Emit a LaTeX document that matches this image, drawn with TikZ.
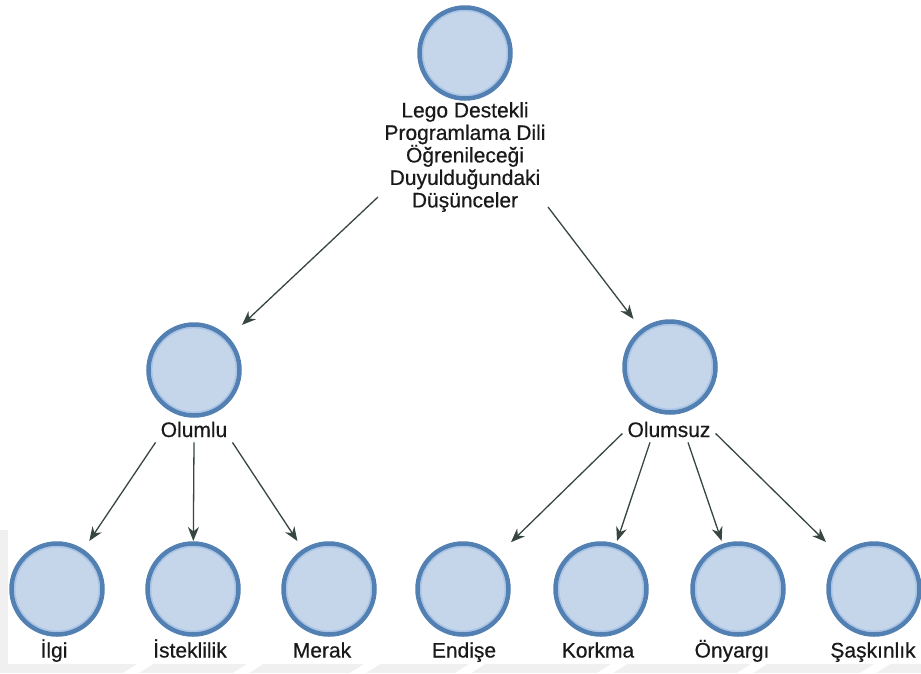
\documentclass[tikz,border=0pt]{standalone}
\usepackage{fontspec}
\setmainfont[FakeBold=0.5]{Liberation Sans}
\usetikzlibrary{arrows.meta}

\definecolor{ringblue}{HTML}{5380B3}
\definecolor{ringlight}{HTML}{A8C4E7}
\definecolor{bubblefill}{HTML}{C6D6EA}
\definecolor{linkgrey}{HTML}{37463F}
\definecolor{marktint}{HTML}{F0F0F0}

\begin{document}
\begin{tikzpicture}[x=1pt,y=-1pt,
  bubble/.style={rectangle, draw=none, inner sep=0pt, outer sep=0pt,
    minimum width=96pt, minimum height=96pt,
    path picture={
      \fill[bubblefill] (path picture bounding box.center) circle[radius=45.5pt];
      \draw[ringlight, line width=1.4pt] (path picture bounding box.center) circle[radius=42.3pt];
      \draw[ringblue, line width=4.5pt] (path picture bounding box.center) circle[radius=45.5pt];
    }},
  caption/.style={font=\fontsize{21}{22.5}\selectfont, text=black!90, inner sep=5pt, align=center},
  link/.style={draw=linkgrey, line width=1.3pt,
    -{Stealth[length=14pt,width=11pt,inset=4.5pt]}},
]
% page and faint backdrop along the lower and left edges
\useasboundingbox (0,0) rectangle (921,673);
\fill[white] (0,0) rectangle (921,673);
\fill[marktint] (0,664) rectangle (921,673);
\fill[marktint] (0,530) rectangle (8,664);
\foreach \gx in {123,233,350,455,597,737,860}
  \fill[white] (\gx,673) -- (\gx+14,664) -- (\gx+30,664) -- (\gx+16,673) -- cycle;

% root
\node[bubble] (root) at (465,53) {};
\node[caption, anchor=north] (rootlbl) at (465,97)
  {Lego Destekli\\Programlama Dili\\Öğrenileceği\\Duyulduğundaki\\Düşünceler};

% second level
\node[bubble] (pos) at (194,370) {};
\node[caption, anchor=base] (poslbl) at (194,437) {Olumlu};
\node[bubble] (neg) at (670,367) {};
\node[caption, anchor=base] (neglbl) at (669,437) {Olumsuz};

% leaves
\node[bubble] (ilgi) at (57,589) {};
\node[bubble] (istek) at (193,589) {};
\node[bubble] (merak) at (329,589) {};
\node[bubble] (endise) at (463,589) {};
\node[bubble] (korkma) at (601,589) {};
\node[bubble] (onyargi) at (738,589) {};
\node[bubble] (saskin) at (874,589) {};

\node[caption, anchor=base] (ilgilbl) at (54,657.5) {İlgi};
\node[caption, anchor=base] (isteklbl) at (190,657.5) {İsteklilik};
\node[caption, anchor=base] (meraklbl) at (322,657.5) {Merak};
\node[caption, anchor=base] (endiselbl) at (464,657.5) {Endişe};
\node[caption, anchor=base] (korkmalbl) at (598,657.5) {Korkma};
\node[caption, anchor=base] (onyargilbl) at (732,657.5) {Önyargı};
\node[caption, anchor=base] (saskinlbl) at (873,657.5) {Şaşkınlık};

% connectors
\draw[link] ([shift={(-87,100)}]rootlbl.north) -- (pos);
\draw[link] ([shift={(83,110)}]rootlbl.north) -- (neg);

\draw[link] (poslbl.south west) -- (ilgi);
\draw[link] (poslbl.south) -- (istek);
\draw[link] (poslbl.south east) -- (merak);

\draw[link] ([yshift=-4pt]neglbl.west) -- (endise);
\draw[link] ([xshift=-19pt]neglbl.south) -- (korkma);
\draw[link] ([xshift=19pt]neglbl.south) -- (onyargi);
\draw[link] ([yshift=-4pt]neglbl.east) -- (saskin);
\end{tikzpicture}
\end{document}
